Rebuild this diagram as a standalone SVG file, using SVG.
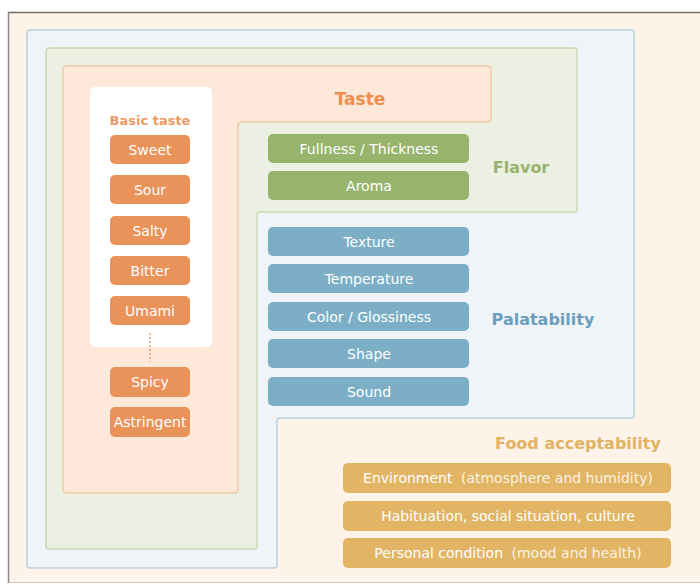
<svg xmlns="http://www.w3.org/2000/svg" width="700" height="586" viewBox="0 0 700 586">
<style>
.t{font-family:"DejaVu Sans",Verdana,sans-serif;text-anchor:middle}
.pill{font-size:14px;fill:#ffffff}
.or{fill:#e9925a}
.gr{fill:#97b46d}
.bl{fill:#7cafc5}
.go{fill:#e2b565}
.lab{font-weight:bold}
.lt{fill-opacity:0.85}
</style>
<rect width="700" height="586" fill="#ffffff"/>
<g id="frame">
<rect x="8.5" y="12.5" width="700" height="570" fill="#fdf3e8" stroke="#cfc7bd" stroke-width="1"/>
<line x1="8" y1="12.5" x2="700" y2="12.5" stroke="#7a6a5c" stroke-width="1.5"/>
<line x1="8.5" y1="12" x2="8.5" y2="583" stroke="#8a8a8a" stroke-width="1.5"/>
</g>
<g id="food-acceptability">
<text class="t lab" x="578" y="449" font-size="16" fill="#e2b262">Food acceptability</text>
<rect class="go" x="343" y="463" width="328" height="30" rx="5"/>
<text class="t pill" x="508" y="483">Environment <tspan class="lt" dx="4">(atmosphere and humidity)</tspan></text>
<rect class="go" x="343" y="501" width="328" height="30" rx="5"/>
<text class="t pill" x="508" y="521">Habituation, social situation, culture</text>
<rect class="go" x="343" y="538" width="328" height="30" rx="5"/>
<text class="t pill" x="508" y="558">Personal condition <tspan class="lt" dx="4">(mood and health)</tspan></text>
</g>
<g id="palatability">
<path d="M30,30 H631 Q634,30 634,33 V415 Q634,418 631,418 H280 Q277,418 277,421 V565 Q277,568 274,568 H30 Q27,568 27,565 V33 Q27,30 30,30 Z" fill="#eef4f8" stroke="#b9d0dc" stroke-width="1.5"/>
<text class="t lab" x="543" y="325" font-size="16" fill="#6c9fbd">Palatability</text>
</g>
<g id="flavor">
<path d="M49,48 H574 Q577,48 577,51 V209 Q577,212 574,212 H260 Q257,212 257,215 V546 Q257,549 254,549 H49 Q46,549 46,546 V51 Q46,48 49,48 Z" fill="#ebf0e3" stroke="#cad8b4" stroke-width="1.5"/>
<text class="t lab" x="521" y="173" font-size="16" fill="#98b36c">Flavor</text>
</g>
<g id="taste">
<path d="M67,66 H487 Q491,66 491,70 V118 Q491,122 487,122 H242 Q238,122 238,126 V489 Q238,493 234,493 H67 Q63,493 63,489 V70 Q63,66 67,66 Z" fill="#fde8da" stroke="#f0c9a8" stroke-width="1.5"/>
<text class="t lab" x="360" y="105" font-size="17" fill="#ef8d4d">Taste</text>
</g>
<g id="basic-taste">
<rect x="90" y="87" width="122" height="260" rx="5" fill="#ffffff"/>
<text class="t lab" x="150" y="125" font-size="13" fill="#ec9a64">Basic taste</text>
</g>
<g id="connectors">
<line x1="150" y1="333" x2="150" y2="362" stroke="#e9a070" stroke-width="1.5" stroke-dasharray="2,2"/>
</g>
<g id="sweet"><rect class="or" x="110" y="135" width="80" height="29" rx="5"/><text class="t pill" x="150" y="155">Sweet</text></g>
<g id="sour"><rect class="or" x="110" y="175" width="80" height="29" rx="5"/><text class="t pill" x="150" y="195">Sour</text></g>
<g id="salty"><rect class="or" x="110" y="216" width="80" height="29" rx="5"/><text class="t pill" x="150" y="236">Salty</text></g>
<g id="bitter"><rect class="or" x="110" y="256" width="80" height="29" rx="5"/><text class="t pill" x="150" y="276">Bitter</text></g>
<g id="umami"><rect class="or" x="110" y="296" width="80" height="29" rx="5"/><text class="t pill" x="150" y="316">Umami</text></g>
<g id="spicy"><rect class="or" x="110" y="367" width="80" height="30" rx="5"/><text class="t pill" x="150" y="387">Spicy</text></g>
<g id="astringent"><rect class="or" x="110" y="407" width="80" height="30" rx="5"/><text class="t pill" x="150" y="427" font-size="13.5">Astringent</text></g>
<g id="fullness"><rect class="gr" x="268" y="134" width="201" height="29" rx="5"/><text class="t pill" x="369" y="154">Fullness / Thickness</text></g>
<g id="aroma"><rect class="gr" x="268" y="171" width="201" height="29" rx="5"/><text class="t pill" x="369" y="191">Aroma</text></g>
<g id="texture"><rect class="bl" x="268" y="227" width="201" height="29" rx="5"/><text class="t pill" x="369" y="247">Texture</text></g>
<g id="temperature"><rect class="bl" x="268" y="264" width="201" height="29" rx="5"/><text class="t pill" x="369" y="284">Temperature</text></g>
<g id="color"><rect class="bl" x="268" y="302" width="201" height="29" rx="5"/><text class="t pill" x="369" y="322">Color / Glossiness</text></g>
<g id="shape"><rect class="bl" x="268" y="339" width="201" height="29" rx="5"/><text class="t pill" x="369" y="359">Shape</text></g>
<g id="sound"><rect class="bl" x="268" y="377" width="201" height="29" rx="5"/><text class="t pill" x="369" y="397">Sound</text></g>
</svg>
